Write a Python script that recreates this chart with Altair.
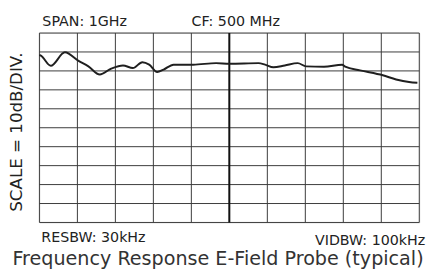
import altair as alt
import pandas as pd

# Trace values: frequency (MHz) and level (dB, 0 = top line, 10 dB/div)
freq_mhz = [0, 4, 30, 67, 103, 129, 159, 189, 220, 246, 271, 289, 310, 327, 353,
            405, 465, 500, 577, 594, 616, 646, 680, 702, 749, 797, 805, 844, 904,
            939, 973, 995]
level_db = [-11.5, -11.9, -17.3, -10.2, -14.7, -17.6, -21.9, -18.8, -17.1, -18.5,
            -15.4, -16.7, -20.6, -19.3, -16.7, -16.7, -15.9, -16.2, -15.9, -16.7,
            -18.1, -17.1, -15.9, -17.6, -17.8, -16.7, -17.8, -19.7, -22.3, -24.5,
            -25.9, -26.3]

x_grid = [0, 100, 200, 300, 400, 500, 600, 700, 800, 900, 1000]
y_grid = [0, -10, -20, -30, -40, -50, -60, -70, -80, -90, -100]
center_freq = [500]

top_left_text = "SPAN: 1GHz"
top_mid_text = "CF: 500 MHz"
bottom_left_text = "RESBW: 30kHz"
bottom_right_text = "VIDBW: 100kHz"
y_label = "SCALE = 10dB/DIV."
title_text = "Frequency Response E-Field Probe (typical)"

FONT = "DejaVu Sans"

trace = pd.DataFrame({"f": freq_mhz, "db": level_db})

xs = alt.Scale(domain=[0, 1000], nice=False, zero=False)
ys = alt.Scale(domain=[-100, 0], nice=False, zero=False)

vgrid = alt.Chart(pd.DataFrame({"f": x_grid})).mark_rule(color="#3a3a3a", strokeWidth=1).encode(
    x=alt.X("f:Q", scale=xs, axis=None)
)
hgrid = alt.Chart(pd.DataFrame({"db": y_grid})).mark_rule(color="#3a3a3a", strokeWidth=1).encode(
    y=alt.Y("db:Q", scale=ys, axis=None)
)
center = alt.Chart(pd.DataFrame({"f": center_freq})).mark_rule(color="#111111", strokeWidth=2).encode(
    x=alt.X("f:Q", scale=xs, axis=None)
)

line = alt.Chart(trace).mark_line(color="#1f1f1f", strokeWidth=2, interpolate="monotone").encode(
    x=alt.X("f:Q", scale=xs, axis=None),
    y=alt.Y("db:Q", scale=ys, axis=None),
)

def label(txt, x, y, size=15, align="left", angle=0, color="#222222", baseline="alphabetic"):
    return alt.Chart(pd.DataFrame({"t": [txt]})).mark_text(
        font=FONT, fontSize=size, align=align, baseline=baseline, angle=angle, color=color
    ).encode(text="t:N", x=alt.value(x), y=alt.value(y))

texts = [
    label(top_left_text, 3, -7, size=14.5),
    label(top_mid_text, 155, -7, size=14.5),
    label(bottom_left_text, 2, 213, size=14.5),
    label(bottom_right_text, 393, 216, size=14.5, align="right"),
    label(y_label, -23, 101, size=17, align="center", angle=270, baseline="middle"),
    label(title_text, 182, 236, size=19.5, align="center", color="#333333"),
]

chart = alt.layer(vgrid, hgrid, center, line, *texts).properties(
    width=387, height=193,
    autosize=alt.AutoSizeParams(type="none"),
    padding={"left": 32, "top": 23, "right": 15, "bottom": 49},
).configure_view(stroke="#1a1a1a", strokeWidth=2).configure(background="white")

chart.save("out.html", embed_options={"renderer": "svg", "actions": False})
